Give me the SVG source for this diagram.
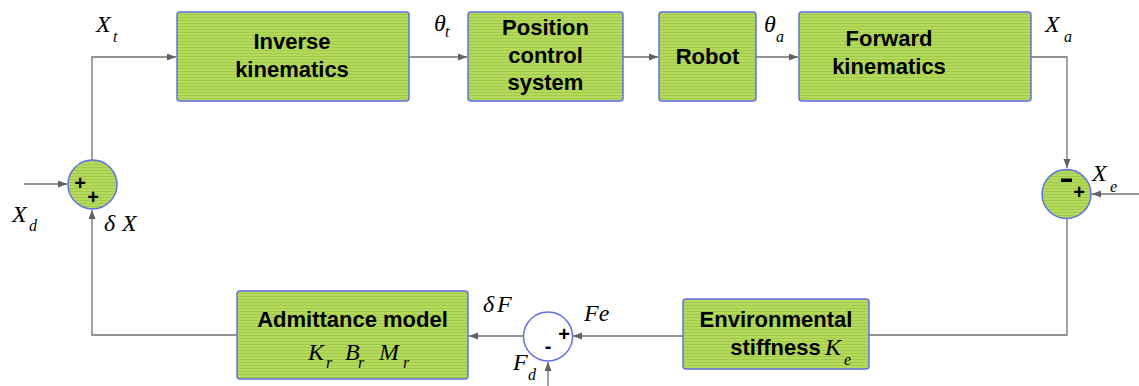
<svg xmlns="http://www.w3.org/2000/svg" width="1139" height="386" viewBox="0 0 1139 386">
  <style>
    .box { fill: url(#stripes); stroke: #6170e6; stroke-width: 1.5; }
    .sum { fill: url(#stripes); stroke: #6170e6; stroke-width: 1.5; }
    .sumw { fill: #ffffff; stroke: #6170e6; stroke-width: 1.5; }
    .wire { fill: none; stroke: #707070; stroke-width: 1.3; }
    .arr { marker-end: url(#head); }
    .lbl { font-family: "Liberation Sans", Arial, sans-serif; font-weight: bold; font-size: 22px; fill: #000; text-anchor: middle; }
    .sign { font-family: "Liberation Sans", Arial, sans-serif; font-weight: bold; font-size: 20px; fill: #000; text-anchor: middle; }
    .m { font-family: "Liberation Serif", "Times New Roman", serif; font-style: italic; font-size: 24px; fill: #000; }
    .s { font-family: "Liberation Serif", "Times New Roman", serif; font-style: italic; font-size: 16px; fill: #000; }
  </style>
  <defs>
    <pattern id="stripes" patternUnits="userSpaceOnUse" width="6" height="3">
      <rect width="6" height="3" fill="#b3da5b"/>
      <rect y="2" width="6" height="1" fill="#a2c94b"/>
    </pattern>
    <marker id="head" markerUnits="userSpaceOnUse" markerWidth="10" markerHeight="8" refX="9" refY="3.5" orient="auto">
      <path d="M0,0 L9,3.5 L0,7 z" fill="#606060"/>
    </marker>
  </defs>

  <!-- connectors -->
  <g id="connectors">
    <path class="wire arr" d="M24,184 H67"/>
    <path class="wire arr" d="M92,160 V57 H176"/>
    <path class="wire arr" d="M409,57 H467"/>
    <path class="wire arr" d="M623,57 H658"/>
    <path class="wire arr" d="M756,57 H798"/>
    <path class="wire arr" d="M1031,57 H1067 V168"/>
    <path class="wire arr" d="M1139,194 H1092"/>
    <path class="wire" d="M1067,219 V335 H869"/>
    <path class="wire arr" d="M683,336 H573"/>
    <path class="wire arr" d="M548,386 V362"/>
    <path class="wire arr" d="M523,336 H469"/>
    <path class="wire arr" d="M237,335 H92 V210"/>
  </g>

  <!-- forward path blocks -->
  <g id="inverse-kinematics">
    <rect class="box" x="177" y="12" width="232" height="89" rx="3"/>
    <text class="lbl" x="292" y="49">Inverse</text>
    <text class="lbl" x="292" y="77">kinematics</text>
  </g>
  <g id="position-control">
    <rect class="box" x="468" y="12" width="155" height="89" rx="3"/>
    <text class="lbl" x="545.5" y="35">Position</text>
    <text class="lbl" x="545.5" y="63">control</text>
    <text class="lbl" x="545.5" y="90">system</text>
  </g>
  <g id="robot">
    <rect class="box" x="659" y="12" width="97" height="89" rx="3"/>
    <text class="lbl" x="707.5" y="64">Robot</text>
  </g>
  <g id="forward-kinematics">
    <rect class="box" x="799" y="12" width="232" height="89" rx="3"/>
    <text class="lbl" x="889" y="46">Forward</text>
    <text class="lbl" x="889" y="74">kinematics</text>
  </g>

  <!-- feedback blocks -->
  <g id="admittance-model">
    <rect class="box" x="237" y="291" width="231" height="88" rx="3"/>
    <text class="lbl" x="352.5" y="327">Admittance model</text>
    <text class="m" x="308" y="360">K</text><text class="s" x="326" y="368">r</text>
    <text class="m" x="345" y="360">B</text><text class="s" x="358" y="368">r</text>
    <text class="m" x="379" y="360">M</text><text class="s" x="403" y="368">r</text>
  </g>
  <g id="environmental-stiffness">
    <rect class="box" x="683" y="299" width="186" height="70" rx="3"/>
    <text class="lbl" x="776" y="327">Environmental</text>
    <text class="lbl" x="775.5" y="355">stiffness</text>
    <text class="m" x="825" y="355">K</text><text class="s" x="844" y="365">e</text>
  </g>

  <!-- summing junctions -->
  <g id="sum-position">
    <circle class="sum" cx="92.5" cy="184.5" r="24.5"/>
    <text class="sign" x="80" y="190">+</text>
    <text class="sign" x="93" y="204">+</text>
  </g>
  <g id="sum-error">
    <circle class="sum" cx="1066.5" cy="194" r="24.5"/>
    <rect x="1061" y="178.5" width="11" height="3.5" fill="#000"/>
    <text class="sign" x="1079" y="199">+</text>
  </g>
  <g id="sum-force">
    <circle class="sumw" cx="548" cy="336.5" r="24.5"/>
    <text class="sign" x="564" y="341">+</text>
    <text class="sign" x="548" y="353">-</text>
  </g>

  <!-- signal labels -->
  <g id="signal-labels">
    <text class="m" x="96" y="32">X</text><text class="s" x="113" y="42">t</text>
    <text class="m" x="434" y="31">θ</text><text class="s" x="445" y="37">t</text>
    <text class="m" x="764" y="32">θ</text><text class="s" x="776" y="42">a</text>
    <text class="m" x="1045" y="32">X</text><text class="s" x="1064" y="42">a</text>
    <text class="m" x="12" y="222">X</text><text class="s" x="29" y="231">d</text>
    <text class="m" x="104" y="231">δ</text><text class="m" x="122" y="231">X</text>
    <text class="m" x="1092" y="181">X</text><text class="s" x="1110" y="192">e</text>
    <text class="m" x="483" y="312">δ</text><text class="m" x="497" y="312">F</text>
    <text class="m" x="584" y="321">Fe</text>
    <text class="m" x="513" y="370">F</text><text class="s" x="528" y="380">d</text>
  </g>
</svg>
